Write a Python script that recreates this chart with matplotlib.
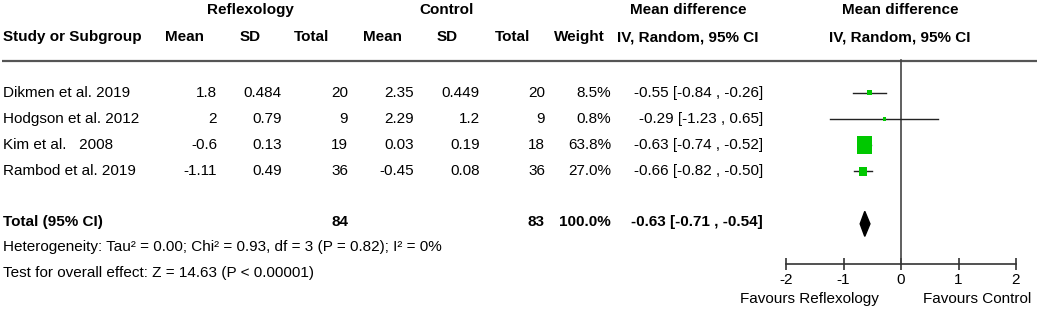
import matplotlib
matplotlib.use("Agg")
import matplotlib.pyplot as plt
from matplotlib.patches import Rectangle
import numpy as np

plt.rcParams['font.family'] = ['Liberation Sans', 'DejaVu Sans']

studies = ["Dikmen et al. 2019", "Hodgson et al. 2012", "Kim et al.   2008", "Rambod et al. 2019"]
ref_mean = ["1.8", "2", "-0.6", "-1.11"]
ref_sd = ["0.484", "0.79", "0.13", "0.49"]
ref_n = ["20", "9", "19", "36"]
ctl_mean = ["2.35", "2.29", "0.03", "-0.45"]
ctl_sd = ["0.449", "1.2", "0.19", "0.08"]
ctl_n = ["20", "9", "18", "36"]
weights = [8.5, 0.8, 63.8, 27.0]
md = [-0.55, -0.29, -0.63, -0.66]
ci_lo = [-0.84, -1.23, -0.74, -0.82]
ci_hi = [-0.26, 0.65, -0.52, -0.50]

total_label = "Total (95% CI)"
total_ref_n = "84"
total_ctl_n = "83"
total_weight = "100.0%"
total_md = -0.63
total_lo = -0.71
total_hi = -0.54
heterogeneity = "Heterogeneity: Tau² = 0.00; Chi² = 0.93, df = 3 (P = 0.82); I² = 0%"
overall = "Test for overall effect: Z = 14.63 (P < 0.00001)"
xticks = [-2, -1, 0, 1, 2]
fav_left = "Favours Reflexology"
fav_right = "Favours Control"

W, H = 1040, 311
fig = plt.figure(figsize=(W / 100, H / 100), dpi=100)
bg = fig.add_axes([0, 0, 1, 1])
bg.set_xlim(0, W)
bg.set_ylim(H, 0)
bg.axis('off')

ROW0, ROWH = 92.6, 26.25
def rowpix(r):
    return ROW0 + (r - 1) * ROWH

FS = 11
green = '#00c800'

# headers
hdr = dict(fontsize=FS, fontweight='bold', va='center')
bg.text(250, 10, "Reflexology", ha='center', **hdr)
bg.text(447, 10, "Control", ha='center', **hdr)
bg.text(688, 10, "Mean difference", ha='center', **hdr)
bg.text(900, 10, "Mean difference", ha='center', **hdr)
bg.text(3, 37, "Study or Subgroup", ha='left', **hdr)
for x, t in [(185, "Mean"), (250, "SD"), (312, "Total"), (382, "Mean"), (447, "SD"),
             (513, "Total"), (579, "Weight"), (688, "IV, Random, 95% CI"), (900, "IV, Random, 95% CI")]:
    bg.text(x, 37, t, ha='center', **hdr)

bg.plot([2, 1037], [60.5, 60.5], color='#555555', lw=1.6, solid_capstyle='butt')

# study rows
cols = [(217, ref_mean), (282, ref_sd), (348, ref_n), (414, ctl_mean), (480, ctl_sd), (545, ctl_n)]
for i, name in enumerate(studies):
    y = rowpix(i + 1)
    bg.text(3, y, name, ha='left', va='center', fontsize=FS)
    for x, arr in cols:
        bg.text(x, y, arr[i], ha='right', va='center', fontsize=FS)
    bg.text(611, y, f"{weights[i]:.1f}%", ha='right', va='center', fontsize=FS)
    bg.text(763, y, f"{md[i]:.2f} [{ci_lo[i]:.2f} , {ci_hi[i]:.2f}]", ha='right', va='center', fontsize=FS)

yt = rowpix(6)
tb = dict(fontsize=FS, fontweight='bold', va='center')
bg.text(3, yt - 1.5, total_label, ha='left', **tb)
bg.text(348, yt - 1.5, total_ref_n, ha='right', **tb)
bg.text(545, yt - 1.5, total_ctl_n, ha='right', **tb)
bg.text(611, yt - 1.5, total_weight, ha='right', **tb)
bg.text(763, yt - 1.5, f"{total_md:.2f} [{total_lo:.2f} , {total_hi:.2f}]", ha='right', **tb)
bg.text(3, 247, heterogeneity, ha='left', va='center', fontsize=FS)
bg.text(3, 273, overall, ha='left', va='center', fontsize=FS)
bg.text(809, 299, fav_left, ha='center', va='center', fontsize=FS)
bg.text(977, 299, fav_right, ha='center', va='center', fontsize=FS)

# forest axes
x0, x1 = 786, 1016
ytop, ybot = 60.5, 264
ax = fig.add_axes([x0 / W, (H - ybot) / H, (x1 - x0) / W, (ybot - ytop) / H])
ax.set_xlim(-2, 2)
r_top = 1 + (ytop - ROW0) / ROWH
r_bot = 1 + (ybot - ROW0) / ROWH
ax.set_ylim(r_bot, r_top)
ax.patch.set_alpha(0)
for s in ['left', 'top', 'right']:
    ax.spines[s].set_visible(False)
ax.spines['bottom'].set_color('#333333')
ax.spines['bottom'].set_linewidth(1.2)
ax.set_yticks([])
ax.set_xticks(xticks)
ax.set_xticklabels([str(t) for t in xticks])
ax.tick_params(axis='x', direction='inout', length=9, width=1.2, color='#333333',
               labelsize=FS, pad=2)
ax.axvline(0, color='#444444', lw=1.2, clip_on=False)

px_per_unit = (x1 - x0) / 4.0
for i in range(len(studies)):
    r = i + 1
    ax.plot([ci_lo[i], ci_hi[i]], [r, r], color='#222222', lw=1.0, zorder=2)
    side = 3.0 + 12.0 * weights[i] / 64.0
    w = side / px_per_unit
    h = side * 1.15 / ROWH
    ax.add_patch(Rectangle((md[i] - w / 2, r - h / 2), w, h, facecolor=green,
                           edgecolor='none', zorder=3))

hd = 12.5 / ROWH
ax.fill([total_lo, total_md, total_hi, total_md], [6, 6 - hd, 6, 6 + hd],
        color='black', zorder=3)

fig.savefig("out.png", dpi=100)
